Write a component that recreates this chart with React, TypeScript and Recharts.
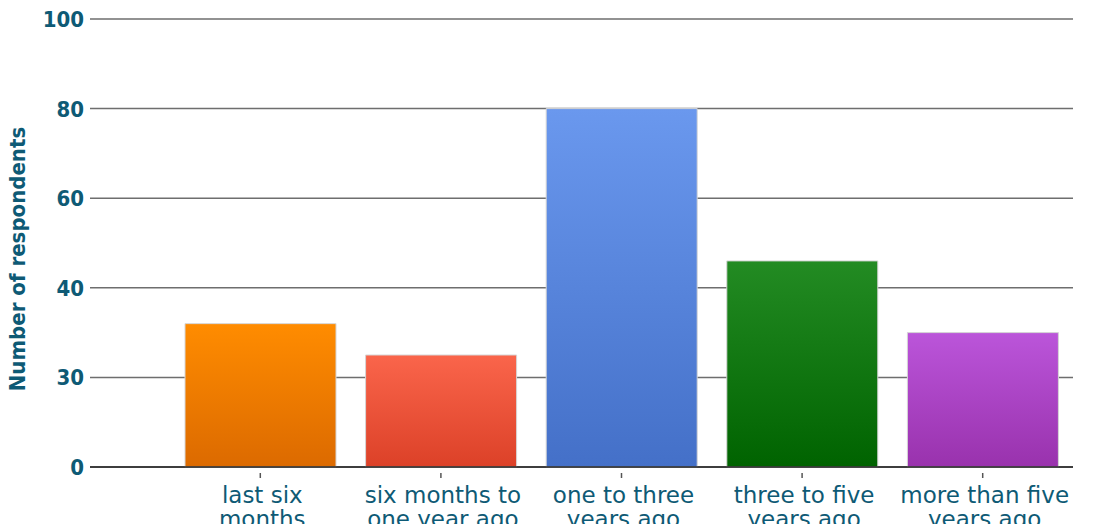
import { BarChart, Bar, XAxis, YAxis, CartesianGrid, Cell, Label } from "recharts";

const categoryLines = [
  ["last six", "months"],
  ["six months to", "one year ago"],
  ["one to three", "years ago"],
  ["three to five", "years ago"],
  ["more than five", "years ago"],
];
const categories = categoryLines.map((l) => l.join(" "));
const respondents = [32, 25, 80, 46, 30];
const yTicks = [0, 20, 40, 60, 80, 100];
const yTickLabels = ["0", "30", "40", "60", "80", "100"];
const gradientTops = ["#ff8c00", "#fa654b", "#6a98ee", "#238b23", "#bb55da"];
const gradientBottoms = ["#dc6a00", "#dc4128", "#4470c8", "#006300", "#9932ad"];

const data = categories.map((c, i) => ({ category: c, value: respondents[i] }));

const TEXT = "#0e5a75";
const FONT = "'DejaVu Sans Condensed', 'DejaVu Sans', sans-serif";

function CategoryTick(props: any) {
  const { x, y, index } = props;
  const lines = categoryLines[index] || [];
  return (
    <g>
      <line x1={x} x2={x} y1={y - 2} y2={y + 3} stroke="#555" strokeWidth={1.5} />
      <text
        x={x + 2}
        y={y + 28}
        textAnchor="middle"
        fill={TEXT}
        fontFamily="'DejaVu Sans', sans-serif"
        fontSize={23}
      >
        {lines.map((l, i) => (
          <tspan key={i} x={x + 2} dy={i === 0 ? 0 : 24}>
            {l}
          </tspan>
        ))}
      </text>
    </g>
  );
}

function ValueTick(props: any) {
  const { x, y, index } = props;
  return (
    <text
      x={x - 4}
      y={y + 8}
      textAnchor="end"
      fill={TEXT}
      fontFamily={FONT}
      fontWeight="bold"
      fontSize={22}
    >
      {yTickLabels[index]}
    </text>
  );
}

export default function App() {
  return (
    <div style={{ position: "absolute", left: 0, top: 0, background: "#fff" }}>
      <BarChart
        width={1109}
        height={524}
        data={data}
        margin={{ top: 19, right: 36, left: 0, bottom: 0 }}
      >
        <defs>
          {gradientTops.map((top, i) => (
            <linearGradient key={i} id={`grad-${i}`} x1="0" y1="0" x2="0" y2="1">
              <stop offset="0%" stopColor={top} />
              <stop offset="100%" stopColor={gradientBottoms[i]} />
            </linearGradient>
          ))}
        </defs>
        <CartesianGrid vertical={false} stroke="#6e6e6e" strokeWidth={1.5} />
        <XAxis
          dataKey="category"
          height={57}
          padding={{ left: 80, right: 0 }}
          axisLine={{ stroke: "#222", strokeWidth: 1.5 }}
          tickLine={false}
          tick={<CategoryTick />}
          interval={0}
        />
        <YAxis
          width={90}
          domain={[0, 100]}
          ticks={yTicks}
          axisLine={false}
          tickLine={false}
          tickSize={0}
          tick={<ValueTick />}
        >
          <Label
            content={() => (
              <text
                transform="translate(25,259) rotate(-90)"
                textAnchor="middle"
                fill={TEXT}
                fontFamily={FONT}
                fontWeight="bold"
                fontSize={22}
              >
                Number of respondents
              </text>
            )}
          />
        </YAxis>
        <Bar dataKey="value" barSize={151} stroke="#d6d6d6" strokeWidth={1} isAnimationActive={false}>
          {data.map((_, i) => (
            <Cell key={i} fill={`url(#grad-${i})`} />
          ))}
        </Bar>
      </BarChart>
    </div>
  );
}
